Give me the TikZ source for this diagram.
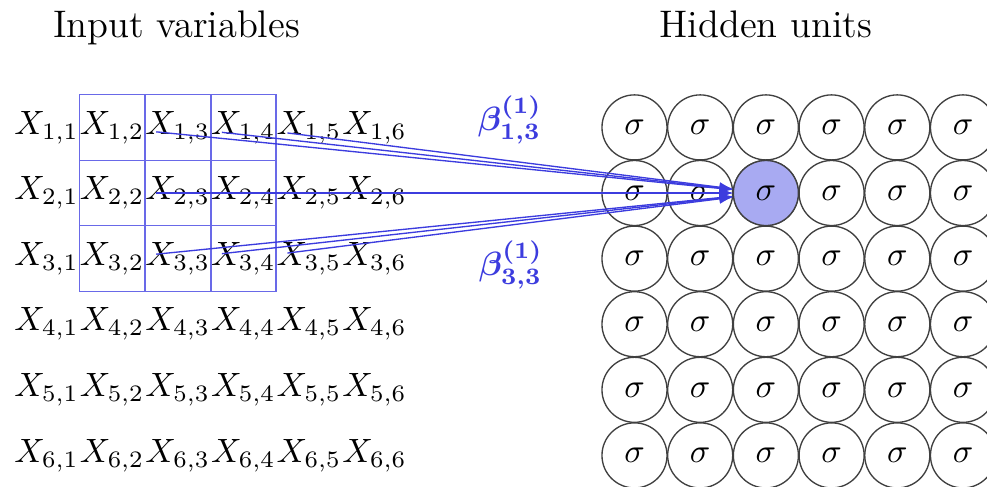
\documentclass[tikz,border=0pt]{standalone}
\usepackage{bm}
\usetikzlibrary{arrows.meta}
\definecolor{netblue}{RGB}{60,60,222}
\definecolor{gridblue}{RGB}{105,105,232}
\definecolor{unitfill}{RGB}{168,170,242}
\begin{document}
\begin{tikzpicture}[x=0.29674pt,y=-0.29674pt,
  titletext/.style={anchor=base,font=\fontsize{11.4}{13.7}\selectfont},
  xvar/.style={inner sep=0.3333em},
  unit/.style={circle,draw=black!75,minimum size=19.3pt,inner sep=0pt},
  selunit/.style={unit,fill=unitfill},
  conn/.style={netblue,thin,-{Latex[length=4pt,width=3pt]}},
  gridline/.style={gridblue,thin},
  weight/.style={text=netblue}]
\useasboundingbox (0,0) rectangle (987,486);
\node[titletext] (tin) at (176.5,37) {Input variables};
\node[titletext] (thid) at (765.9,37) {Hidden units};
\foreach \i in {1,...,6} {
  \foreach \j in {1,...,6} {
    \node[xvar] (x-\i-\j) at ({46.5+(\j-1)*65.6},{127.4+(\i-1)*65.6}) {$X_{\i,\j}$};
    \node[unit] (h-\i-\j) at ({634.5+(\j-1)*65.7},{127.4+(\i-1)*65.6}) {$\sigma$};
  }
}
\node[selunit] (hsel) at (h-2-3) {$\sigma$};
% receptive field grid
\draw[gridline] (79.3,94.6) rectangle (276.1,291.4);
\draw[gridline] (145.1,94.6) -- (145.1,291.4);
\draw[gridline] (210.9,94.6) -- (210.9,291.4);
\draw[gridline] (79.3,160.2) -- (276.1,160.2);
\draw[gridline] (79.3,225.8) -- (276.1,225.8);
% connections
\foreach \i in {1,2,3} {
  \foreach \j in {2,3,4} {
    \draw[conn] (x-\i-\j) -- (hsel);
  }
}
\node[weight] (b13) at (510,120) {$\bm{\beta^{(1)}_{1,3}}$};
\node[weight] (b33) at (511,265) {$\bm{\beta^{(1)}_{3,3}}$};
\end{tikzpicture}
\end{document}
